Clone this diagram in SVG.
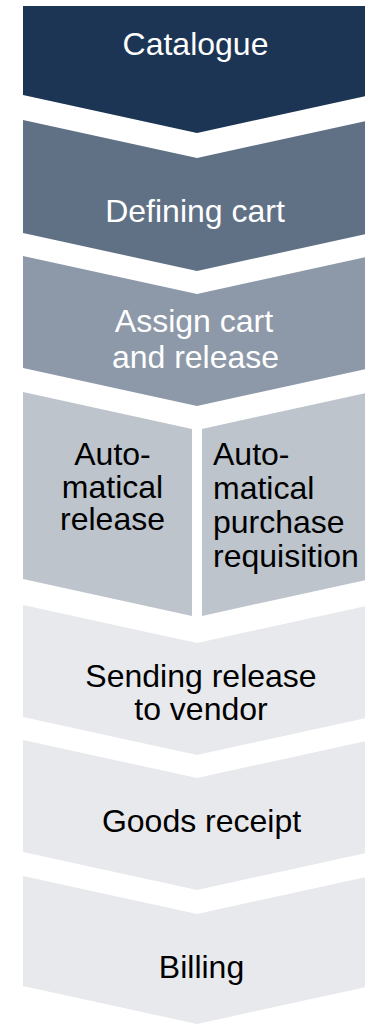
<svg xmlns="http://www.w3.org/2000/svg" width="365" height="1024" viewBox="0 0 365 1024">
<style>
text{font-family:"Liberation Sans",Arial,sans-serif;font-size:32px}
.w{fill:#ffffff}
.k{fill:#000000}
.c{text-anchor:middle}
.s1{fill:#1c3554}
.s2{fill:#607186}
.s3{fill:#8d99a9}
.s4{fill:#bdc4cc}
.s5{fill:#e8e9ec}
</style>
<rect width="365" height="1024" fill="#ffffff"/>
<g id="connectors"/>
<g id="catalogue">
<path class="s1" d="M23,6 H371 V95 L197,133 L23,95 Z"/>
<text class="w c" x="195.5" y="55">Catalogue</text>
</g>
<g id="defining-cart">
<path class="s2" d="M23,120 L197,158 L371,120 V233 L197,271 L23,233 Z"/>
<text class="w c" x="195" y="221.5">Defining cart</text>
</g>
<g id="assign-cart">
<path class="s3" d="M23,256 L197,294 L371,256 V368 L197,406 L23,368 Z"/>
<text class="w c" x="194" y="331.5">Assign cart</text>
<text class="w c" x="195.5" y="368">and release</text>
</g>
<g id="automatical-release">
<path class="s4" d="M23,392 L192,428.9 V615.9 L23,579 Z"/>
<text class="k c" x="112.5" y="465">Auto-</text>
<text class="k c" x="112.5" y="497.5">matical</text>
<text class="k c" x="112.5" y="530">release</text>
</g>
<g id="automatical-purchase-requisition">
<path class="s4" d="M202,428.9 L371,392 V579 L202,615.9 Z"/>
<text class="k" x="213" y="465">Auto-</text>
<text class="k" x="213" y="499">matical</text>
<text class="k" x="213" y="533">purchase</text>
<text class="k" x="213" y="567">requisition</text>
</g>
<g id="sending-release">
<path class="s5" d="M23,605 L197,643 L371,605 V717 L197,755 L23,717 Z"/>
<text class="k c" x="201" y="687">Sending release</text>
<text class="k c" x="201" y="720">to vendor</text>
</g>
<g id="goods-receipt">
<path class="s5" d="M23,740 L197,778 L371,740 V852 L197,890 L23,852 Z"/>
<text class="k c" x="201.5" y="831.5">Goods receipt</text>
</g>
<g id="billing">
<path class="s5" d="M23,876 L197,914 L371,876 V986 L197,1024 L23,986 Z"/>
<text class="k c" x="201.5" y="978">Billing</text>
</g>
</svg>
